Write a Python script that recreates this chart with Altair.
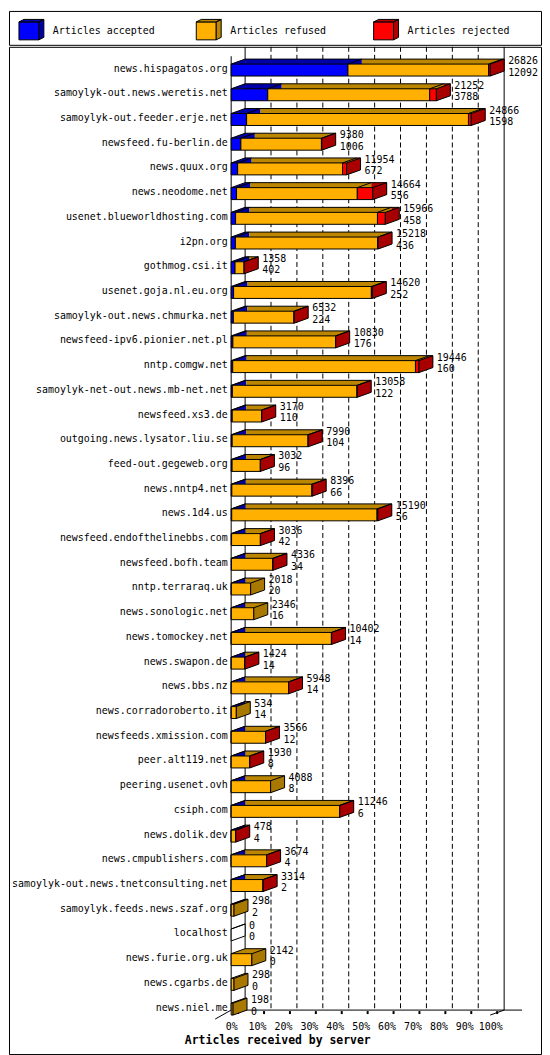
import altair as alt
import pandas as pd

NAMES = [
    "news.hispagatos.org", "samoylyk-out.news.weretis.net", "samoylyk-out.feeder.erje.net",
    "newsfeed.fu-berlin.de", "news.quux.org", "news.neodome.net", "usenet.blueworldhosting.com",
    "i2pn.org", "gothmog.csi.it", "usenet.goja.nl.eu.org", "samoylyk-out.news.chmurka.net",
    "newsfeed-ipv6.pionier.net.pl", "nntp.comgw.net", "samoylyk-net-out.news.mb-net.net",
    "newsfeed.xs3.de", "outgoing.news.lysator.liu.se", "feed-out.gegeweb.org", "news.nntp4.net",
    "news.1d4.us", "newsfeed.endofthelinebbs.com", "newsfeed.bofh.team", "nntp.terraraq.uk",
    "news.sonologic.net", "news.tomockey.net", "news.swapon.de", "news.bbs.nz",
    "news.corradoroberto.it", "newsfeeds.xmission.com", "peer.alt119.net", "peering.usenet.ovh",
    "csiph.com", "news.dolik.dev", "news.cmpublishers.com", "samoylyk-out.news.tnetconsulting.net",
    "samoylyk.feeds.news.szaf.org", "localhost", "news.furie.org.uk", "news.cgarbs.de", "news.niel.me",
]
TOTAL = [26826, 21252, 24866, 9380, 11954, 14664, 15966, 15218, 1358, 14620, 6532, 10830, 19446,
         13058, 3170, 7990, 3032, 8396, 15190, 3036, 4336, 2018, 2346, 10402, 1424, 5948, 534,
         3566, 1930, 4088, 11246, 478, 3674, 3314, 298, 0, 2142, 298, 198]
ACCEPTED = [12092, 3788, 1598, 1006, 672, 556, 458, 436, 402, 252, 224, 176, 160, 122, 110, 104,
            96, 66, 56, 42, 34, 20, 16, 14, 14, 14, 14, 12, 8, 8, 6, 4, 4, 2, 2, 0, 0, 0, 0]
REFUSED = [14564, 16774, 22978, 8344, 10862, 12508, 14693, 14742, 946, 14268, 6288, 10634, 18926,
           12916, 3050, 7866, 2926, 8310, 15054, 2984, 4292, 1998, 2330, 10368, 1400, 5924, 520,
           3544, 1912, 4080, 11220, 464, 3660, 3302, 296, 0, 2142, 298, 198]
REJECTED = [170, 690, 290, 30, 420, 1600, 815, 40, 10, 100, 20, 20, 360, 20, 10, 20, 10, 20, 80,
            10, 10, 0, 0, 20, 10, 10, 0, 10, 10, 0, 20, 10, 10, 10, 0, 0, 0, 0, 0]
LEGEND_LABELS = ["Articles accepted", "Articles refused", "Articles rejected"]
GRID_DASHED = [10, 20, 30, 40, 50, 60, 70, 80, 90]
GRID_SOLID = [0, 100]
TICKS = [0, 10, 20, 30, 40, 50, 60, 70, 80, 90, 100]

MONO = "DejaVu Sans Mono"
W, H, LEG_H = 534, 1011, 34
X0, K = 223, 2.6
DX, DY, BH, FY = 14, 5, 12, 1.5
PAD_OUT = 0.38
STEP = H / (len(NAMES) + 1 + 2 * PAD_OUT)
C_LAST = PAD_OUT * STEP + (len(NAMES) - 0.5) * STEP
FLOOR = C_LAST + FY + BH / 2 - DY
XAX_OFF = FLOOR + 9 - H
FL = FY + BH / 2 - DY  # floor offset below last row centre

SEG_KEYS = ["acc", "ref", "rej"]
FILL = alt.Scale(
    domain=["acc", "ref", "rej", "acc_d", "ref_d", "rej_d", "ref_s", "rej_s", "none"],
    range=["#0000FF", "#FFB000", "#FF0000", "#0000A8", "#BC8600", "#B00000", "#A87800", "#A80000", "#FFFFFF"],
)

MAXV = max(TOTAL)


def pct(v):
    return v / MAXV * 100


seg_rows, side_rows, tri_rows, div_rows, lab_rows = [], [], [], [], []
for i, n in enumerate(NAMES):
    vals = [ACCEPTED[i], REFUSED[i], REJECTED[i]]
    nz = [k for k, v in enumerate(vals) if v > 0]
    acc = 0
    ends = {}
    for k, v in enumerate(vals):
        if v > 0:
            seg_rows.append(dict(name=n, key=SEG_KEYS[k], dkey=SEG_KEYS[k] + "_d",
                                 start=pct(acc), end=pct(acc + v)))
        acc += v
        ends[k] = pct(acc)
    for j in nz[:-1]:
        div_rows.append(dict(name=n, x=ends[j]))
    cap = "rej_s" if REJECTED[i] > 0 else ("ref_s" if REFUSED[i] > 0 else "none")
    side_rows.append(dict(name=n, x=pct(TOTAL[i]), cap=cap))
    tri_rows.append(dict(name=n, zero=0, first=(SEG_KEYS[nz[0]] + "_d") if nz else "none"))
    lab_rows.append(dict(name=n, zero=0, x=pct(TOTAL[i]), tot=str(TOTAL[i]), acc=str(ACCEPTED[i])))

seg_df = pd.DataFrame(seg_rows)
side_df = pd.DataFrame(side_rows)
tri_df = pd.DataFrame(tri_rows)
div_df = pd.DataFrame(div_rows)
lab_df = pd.DataFrame(lab_rows)

XS = alt.Scale(domain=[-X0 / K, (W - X0) / K], nice=False, zero=False)
YS = alt.Scale(domain=NAMES + [" "], paddingInner=0, paddingOuter=PAD_OUT)
XAXIS = alt.Axis(orient="bottom", offset=XAX_OFF, values=TICKS, labelExpr="datum.value + '%'",
                 domain=False, ticks=False, grid=False, labelFont=MONO, labelFontSize=10,
                 labelColor="black", labelPadding=2, title="Articles received by server",
                 titleFont=MONO, titleFontSize=11.5, titleFontWeight="bold", titleColor="black",
                 titleX=176, titleY=22, titleAlign="left", titleBaseline="middle")
YAXIS = alt.Axis(orient="left", offset=-X0, domain=False, ticks=False, grid=False, labelPadding=4,
                 labelFont=MONO, labelFontSize=10, labelColor="black", labelLimit=400, title=None)


def X(f):
    return alt.X(f, scale=XS, axis=XAXIS)


def Y(f="name:N"):
    return alt.Y(f, scale=YS, axis=YAXIS)


def u(v):
    return round(v / DX, 4)


TOP, BACKTOP, BACKBOT = -BH / 2, -BH / 2 - DY, BH / 2 - DY
TRI = f"M0,{u(TOP)}L1,{u(BACKTOP)}L1,{u(TOP)}Z"
SIDE = f"M0,{u(TOP)}L1,{u(BACKTOP)}L1,{u(BACKBOT)}L0,{u(BH / 2)}Z"
SLANT = f"M0,{u(TOP)}L1,{u(BACKTOP)}"
SZ = (2 * DX) ** 2

# vertical guide lines on the back wall: from the top of the plot down to the floor
guide_df = pd.DataFrame({"p": GRID_DASHED + GRID_SOLID,
                         "solid": [False] * len(GRID_DASHED) + [True] * len(GRID_SOLID)})
grid_d = alt.Chart(guide_df).transform_filter("!datum.solid").mark_rule(
    color="black", strokeWidth=1, strokeDash=[5, 3], xOffset=DX).encode(
    x=X("p:Q"), y=alt.value(0), y2=alt.value(FLOOR))
grid_s = alt.Chart(guide_df).transform_filter("datum.solid").mark_rule(
    color="black", strokeWidth=1, xOffset=DX).encode(
    x=X("p:Q"), y=alt.value(0), y2=alt.value(FLOOR))
front0 = alt.Chart(pd.DataFrame({"p": [0]})).mark_rule(color="black", strokeWidth=1).encode(
    x=X("p:Q"), y=alt.value(PAD_OUT * STEP), y2=alt.value(FLOOR))

floor_df = pd.DataFrame({"a": [0], "b": [100], "row": [NAMES[-1]]})
floor = alt.Chart(floor_df).mark_rule(
    color="black", strokeWidth=1, yOffset=FL, x2Offset=DX + 18).encode(
    x=X("a:Q"), x2="b:Q", y=Y("row:N"))
floor_l = alt.Chart(floor_df).mark_rule(color="black", strokeWidth=1).encode(
    x=X("a:Q"), x2=alt.value(X0 - 16), y=alt.value(FLOOR), y2=alt.value(FLOOR + 9))
floor_r = alt.Chart(floor_df).mark_rule(color="black", strokeWidth=1).encode(
    x=X("b:Q"), x2=alt.value(X0 + 100 * K + DX), y=alt.value(FLOOR + DY), y2=alt.value(FLOOR))
floor_t = alt.Chart(pd.DataFrame({"p": TICKS})).mark_rule(
    color="black", strokeWidth=2, xOffset=DX / 2).encode(
    x=X("p:Q"), y=alt.value(FLOOR + 1), y2=alt.value(FLOOR + 4))

top_faces = alt.Chart(seg_df).mark_bar(
    size=BH, xOffset=DX, x2Offset=DX, yOffset=FY - DY, strokeWidth=0).encode(
    x=X("start:Q"), x2="end:Q", y=Y(), fill=alt.Fill("dkey:N", scale=FILL, legend=None))
tris = alt.Chart(tri_df).mark_point(
    shape=TRI, size=SZ, filled=True, opacity=1, strokeWidth=0, yOffset=FY).encode(
    x=X("zero:Q"), y=Y(), fill=alt.Fill("first:N", scale=FILL, legend=None))
fronts = alt.Chart(seg_df).mark_bar(
    size=BH, yOffset=FY, stroke="black", strokeWidth=1).encode(
    x=X("start:Q"), x2="end:Q", y=Y(), fill=alt.Fill("key:N", scale=FILL, legend=None))
sides = alt.Chart(side_df).mark_point(
    shape=SIDE, size=SZ, filled=True, opacity=1, stroke="black", strokeWidth=1, yOffset=FY).encode(
    x=X("x:Q"), y=Y(), fill=alt.Fill("cap:N", scale=FILL, legend=None))
top_line = alt.Chart(lab_df).mark_rule(
    color="black", strokeWidth=1, xOffset=DX, x2Offset=DX, yOffset=FY + BACKTOP).encode(
    x=X("zero:Q"), x2="x:Q", y=Y())
slants = alt.Chart(lab_df).mark_point(
    shape=SLANT, size=SZ, filled=False, opacity=1, stroke="black", strokeWidth=1, yOffset=FY).encode(
    x=X("zero:Q"), y=Y())
divs = alt.Chart(div_df).mark_point(
    shape=SLANT, size=SZ, filled=False, opacity=1, stroke="black", strokeWidth=1, yOffset=FY).encode(
    x=X("x:Q"), y=Y())
txt_tot = alt.Chart(lab_df).mark_text(
    align="left", baseline="middle", dx=DX + 4, dy=-7.5, font=MONO, fontSize=10, color="black").encode(
    x=X("x:Q"), y=Y(), text="tot:N")
txt_acc = alt.Chart(lab_df).mark_text(
    align="left", baseline="middle", dx=DX + 4, dy=4, font=MONO, fontSize=10, color="black").encode(
    x=X("x:Q"), y=Y(), text="acc:N")

main = alt.layer(grid_d, grid_s, front0, floor, floor_l, floor_r, floor_t, top_faces, tris, fronts,
                 sides, top_line, slants, divs, txt_tot, txt_acc).properties(width=W, height=H)

# legend panel
leg_df = pd.DataFrame({"item": LEGEND_LABELS, "key": SEG_KEYS, "dkey": [k + "_d" for k in SEG_KEYS]})
LU = 10
LSZ = (2 * LU) ** 2
LFRONT = "M0,-0.6L2,-0.6L2,1.2L0,1.2Z"
LDARK = "M0,-0.6L0.5,-0.85L2.5,-0.85L2,-0.6ZM2,-0.6L2.5,-0.85L2.5,0.95L2,1.2Z"
LX = alt.X("item:N", scale=alt.Scale(domain=LEGEND_LABELS, paddingInner=0, paddingOuter=0),
           axis=None)
BANDW = W / 3
leg_front = alt.Chart(leg_df).mark_point(
    shape=LFRONT, size=LSZ, filled=True, opacity=1, stroke="black", strokeWidth=1,
    xOffset=10 - BANDW / 2).encode(x=LX, fill=alt.Fill("key:N", scale=FILL, legend=None))
leg_dark = alt.Chart(leg_df).mark_point(
    shape=LDARK, size=LSZ, filled=True, opacity=1, stroke="black", strokeWidth=1,
    xOffset=10 - BANDW / 2).encode(x=LX, fill=alt.Fill("dkey:N", scale=FILL, legend=None))
leg_text = alt.Chart(leg_df).mark_text(
    align="left", baseline="middle", dx=44 - BANDW / 2, dy=3, font=MONO, fontSize=10,
    color="black").encode(x=LX, text="item:N")
legend = alt.layer(leg_front, leg_dark, leg_text).properties(width=W, height=LEG_H)

chart = alt.vconcat(legend, main, spacing=0).properties(padding=0).configure_view(
    stroke="black", strokeWidth=1)

chart.save("out.html", embed_options={"renderer": "svg", "actions": False})
